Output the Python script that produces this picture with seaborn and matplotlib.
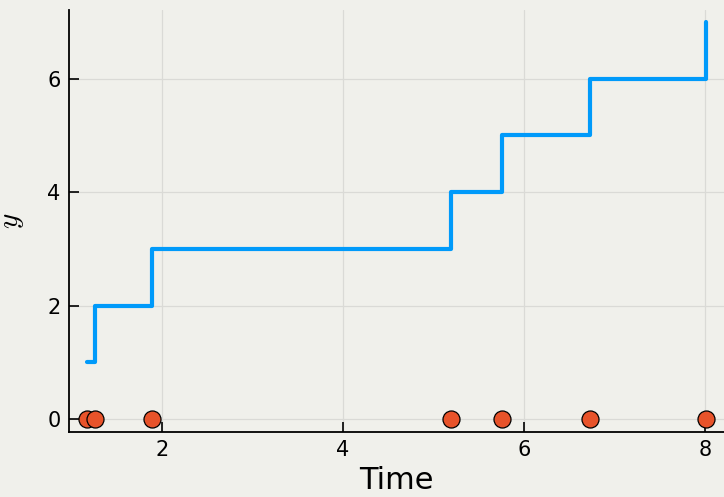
import matplotlib
matplotlib.use("Agg")
import matplotlib.pyplot as plt
import seaborn as sns
import pandas as pd

# Event times and the running count of events
event_times = [1.17, 1.265, 1.895, 5.19, 5.755, 6.725, 8.015]
event_counts = [1, 2, 3, 4, 5, 6, 7]
marker_level = [0, 0, 0, 0, 0, 0, 0]
x_ticks = [2, 4, 6, 8]
y_ticks = [0, 2, 4, 6]

bg = "#f0f0eb"
sns.set_theme(style="white")
plt.rcParams["font.family"] = ["DejaVu Sans"]
plt.rcParams["mathtext.fontset"] = "cm"
plt.rcParams.update({
    "xtick.bottom": True, "ytick.left": True,
    "xtick.direction": "in", "ytick.direction": "in",
    "xtick.major.size": 7, "ytick.major.size": 7,
    "xtick.major.width": 1.2, "ytick.major.width": 1.2,
    "xtick.color": "black", "ytick.color": "black",
})

df_line = pd.DataFrame({"Time": event_times, "y": event_counts})
df_pts = pd.DataFrame({"Time": event_times, "y": marker_level})

fig = plt.figure(figsize=(7.24, 4.97), dpi=100, facecolor=bg)
ax = fig.add_axes([69 / 724, (497 - 432) / 497, 1 - 69 / 724, (432 - 10) / 497])
ax.set_facecolor(bg)

sns.lineplot(data=df_line, x="Time", y="y", drawstyle="steps-post",
             color="#009afa", linewidth=3.0, ax=ax, zorder=3)
sns.scatterplot(data=df_pts, x="Time", y="y", color="#e8532a", s=150,
                edgecolor="black", linewidth=0.9, ax=ax, zorder=4, clip_on=False)

ax.set_xlim(0.975, 8.21)
ax.set_ylim(-0.23, 7.21)
ax.set_xticks(x_ticks)
ax.set_yticks(y_ticks)
ax.grid(True, color="#dadad6", linewidth=0.9)
ax.set_axisbelow(True)

for side in ["top", "right"]:
    ax.spines[side].set_visible(False)
for side in ["left", "bottom"]:
    ax.spines[side].set_color("black")
    ax.spines[side].set_linewidth(1.3)

ax.tick_params(axis="both", which="major", direction="in", length=7, width=1.2,
               color="black", labelsize=15, labelcolor="black", pad=6,
               bottom=True, left=True)
ax.set_xlabel("Time", fontsize=22, color="black", labelpad=4)
ax.set_ylabel("$y$", fontsize=21, color="black", labelpad=15)

fig.savefig("out.png", dpi=100, facecolor=bg)
